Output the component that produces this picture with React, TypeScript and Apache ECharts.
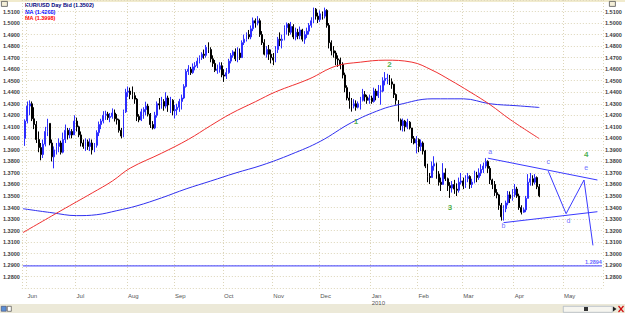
import React, { useEffect, useRef } from "react";
import * as echarts from "echarts";

// EUR/USD daily bid, late May 2009 – mid April 2010.
// Each bar is [close, high, low]; a bar opens at the previous close.
const firstOpen = 1.4;

const may2009 = [null, [1.415, 1.4165, 1.3935]];
const jun2009 = [
  [1.428, 1.432, 1.413], [1.43, 1.433, 1.42], [1.417, 1.432, 1.415], [1.412, 1.427, 1.408], [1.399, 1.415, 1.396],
  [1.392, 1.406, 1.388], [1.386, 1.396, 1.381], [1.395, 1.399, 1.383], [1.406, 1.41, 1.393], [1.413, 1.417, 1.402],
  [1.396, 1.413, 1.394], [1.384, 1.399, 1.38], [1.39, 1.393, 1.374], [1.393, 1.396, 1.386], [1.396, 1.4, 1.388],
  [1.388, 1.398, 1.386], [1.399, 1.405, 1.387], [1.407, 1.412, 1.396], [1.403, 1.409, 1.399], [1.406, 1.409, 1.4],
  [1.403, 1.408, 1.4], [1.415, 1.42, 1.403],
];
const jul2009 = [
  [1.41, 1.418, 1.406], [1.403, 1.411, 1.401], [1.396, 1.406, 1.393], [1.393, 1.399, 1.391], [1.397, 1.4, 1.389],
  [1.393, 1.399, 1.39], [1.396, 1.4, 1.389], [1.39, 1.399, 1.386], [1.394, 1.396, 1.388], [1.405, 1.407, 1.392],
  [1.412, 1.4146, 1.402], [1.415, 1.417, 1.408], [1.42, 1.4236, 1.413], [1.421, 1.424, 1.416], [1.418, 1.423, 1.416],
  [1.419, 1.422, 1.414], [1.422, 1.426, 1.417], [1.417, 1.425, 1.4146], [1.416, 1.421, 1.412], [1.407, 1.417, 1.405],
  [1.402, 1.409, 1.4], [1.423, 1.425, 1.401], [1.44, 1.443, 1.422],
];
const aug2009 = [
  [1.441, 1.445, 1.436], [1.438, 1.444, 1.434], [1.437, 1.445, 1.434], [1.434, 1.44, 1.43], [1.419, 1.435, 1.415],
  [1.416, 1.421, 1.414], [1.423, 1.4257, 1.415], [1.425, 1.427, 1.417], [1.428, 1.4318, 1.42], [1.421, 1.43, 1.419],
  [1.412, 1.422, 1.409], [1.409, 1.415, 1.4077], [1.42, 1.423, 1.408], [1.43, 1.432, 1.418], [1.429, 1.435, 1.425],
  [1.432, 1.436, 1.4257], [1.428, 1.434, 1.424], [1.435, 1.44, 1.426], [1.429, 1.437, 1.423], [1.433, 1.436, 1.422],
  [1.424, 1.434, 1.42],
];
const sep2009 = [
  [1.425, 1.429, 1.4172], [1.427, 1.43, 1.42], [1.432, 1.4343, 1.423], [1.435, 1.438, 1.425], [1.445, 1.447, 1.434],
  [1.458, 1.46, 1.444], [1.46, 1.4635, 1.455], [1.457, 1.462, 1.455], [1.462, 1.465, 1.456], [1.463, 1.4661, 1.459],
  [1.467, 1.47, 1.461], [1.47, 1.472, 1.465], [1.473, 1.4747, 1.468], [1.472, 1.477, 1.469], [1.479, 1.481, 1.47],
  [1.477, 1.4833, 1.474], [1.469, 1.479, 1.466], [1.465, 1.472, 1.462], [1.459, 1.468, 1.4575], [1.46, 1.464, 1.456],
  [1.463, 1.466, 1.457], [1.455, 1.466, 1.453],
];
const oct2009 = [
  [1.454, 1.46, 1.449], [1.457, 1.461, 1.4515], [1.467, 1.469, 1.456], [1.472, 1.474, 1.465], [1.475, 1.4764, 1.47],
  [1.469, 1.478, 1.467], [1.474, 1.479, 1.466], [1.47, 1.478, 1.468], [1.483, 1.485, 1.47], [1.486, 1.49, 1.481],
  [1.49, 1.4919, 1.484], [1.488, 1.494, 1.486], [1.495, 1.4979, 1.486], [1.502, 1.5048, 1.493], [1.5, 1.504, 1.496],
  [1.502, 1.506, 1.498], [1.49, 1.504, 1.488], [1.483, 1.493, 1.481], [1.473, 1.486, 1.472], [1.477, 1.48, 1.47],
  [1.473, 1.481, 1.468], [1.47, 1.477, 1.465],
];
const nov2009 = [
  [1.468, 1.474, 1.4635], [1.477, 1.48, 1.466], [1.486, 1.488, 1.474], [1.485, 1.4919, 1.48], [1.486, 1.49, 1.478],
  [1.496, 1.498, 1.485], [1.499, 1.5005, 1.49], [1.492, 1.5, 1.489], [1.497, 1.501, 1.49], [1.488, 1.499, 1.486],
  [1.492, 1.496, 1.485], [1.489, 1.495, 1.486], [1.494, 1.497, 1.486], [1.486, 1.495, 1.484], [1.49, 1.493, 1.482],
  [1.493, 1.496, 1.487], [1.498, 1.5, 1.49], [1.502, 1.505, 1.496], [1.512, 1.5134, 1.5], [1.506, 1.513, 1.503],
  [1.503, 1.509, 1.5],
];
const dec2009 = [
  [1.508, 1.511, 1.501], [1.506, 1.51, 1.503], [1.511, 1.5134, 1.504], [1.498, 1.512, 1.496], [1.483, 1.5, 1.478],
  [1.476, 1.485, 1.472], [1.474, 1.48, 1.47], [1.469, 1.476, 1.4635], [1.468, 1.472, 1.462], [1.464, 1.47, 1.46],
  [1.455, 1.466, 1.452], [1.444, 1.457, 1.44], [1.435, 1.446, 1.433], [1.433, 1.4403, 1.4257], [1.428, 1.435, 1.4232],
  [1.43, 1.434, 1.426], [1.427, 1.433, 1.424], [1.43, 1.432, 1.426], [1.433, 1.436, 1.425], [1.438, 1.4429, 1.432],
  [1.436, 1.441, 1.432], [1.433, 1.4378, 1.43], [1.435, 1.438, 1.43],
];
const jan2010 = [
  [1.432, 1.437, 1.43], [1.441, 1.444, 1.431], [1.437, 1.443, 1.433], [1.441, 1.4463, 1.435], [1.441, 1.446, 1.4292],
  [1.45, 1.453, 1.44], [1.452, 1.4575, 1.446], [1.452, 1.456, 1.447], [1.449, 1.455, 1.4463], [1.447, 1.452, 1.443],
  [1.438, 1.447, 1.435], [1.433, 1.439, 1.4292], [1.416, 1.4318, 1.4146], [1.411, 1.4172, 1.407], [1.415, 1.4172, 1.406],
  [1.41, 1.416, 1.406], [1.414, 1.417, 1.408], [1.409, 1.415, 1.4077], [1.4, 1.409, 1.396], [1.396, 1.402, 1.3948],
  [1.399, 1.402, 1.387],
];
const feb2010 = [
  [1.393, 1.4, 1.388], [1.396, 1.399, 1.389], [1.389, 1.3974, 1.386], [1.376, 1.39, 1.3742], [1.367, 1.378, 1.362],
  [1.366, 1.37, 1.3604], [1.376, 1.38, 1.366], [1.378, 1.3845, 1.372], [1.369, 1.379, 1.365], [1.362, 1.3716, 1.359],
  [1.36, 1.366, 1.3544], [1.37, 1.3785, 1.36], [1.365, 1.374, 1.363], [1.359, 1.366, 1.3544], [1.357, 1.362, 1.3484],
  [1.36, 1.363, 1.353], [1.356, 1.364, 1.3519], [1.355, 1.361, 1.35], [1.362, 1.366, 1.353], [1.363, 1.37, 1.36],
];
const mar2010 = [
  [1.359, 1.366, 1.356], [1.365, 1.368, 1.357], [1.367, 1.37, 1.362], [1.36, 1.368, 1.3562], [1.362, 1.365, 1.357],
  [1.368, 1.372, 1.361], [1.366, 1.371, 1.362], [1.37, 1.374, 1.364], [1.373, 1.3776, 1.3673], [1.376, 1.379, 1.37],
  [1.38, 1.3828, 1.374], [1.374, 1.381, 1.37], [1.364, 1.376, 1.3604], [1.36, 1.365, 1.356], [1.353, 1.363, 1.3501],
  [1.351, 1.356, 1.348], [1.342, 1.3519, 1.338], [1.332, 1.344, 1.3287], [1.339, 1.342, 1.3287], [1.344, 1.346, 1.336],
  [1.351, 1.3544, 1.342], [1.348, 1.354, 1.344], [1.351, 1.356, 1.346],
];
const apr2010 = [
  [1.356, 1.3604, 1.349], [1.35, 1.358, 1.3484], [1.34, 1.352, 1.338], [1.336, 1.342, 1.334], [1.338, 1.34, 1.3355],
  [1.348, 1.3501, 1.336], [1.362, 1.369, 1.348], [1.365, 1.37, 1.359], [1.362, 1.368, 1.359], [1.366, 1.369, 1.36],
  [1.358, 1.367, 1.356], [1.3502, 1.3604, 1.349],
];

// Moving averages, sampled as [trading-day index, value]
const maSlow = [
  [0, 1.339], [13, 1.3355], [24, 1.333], [33, 1.3338], [42, 1.3373], [51, 1.3415], [62, 1.3484], [73, 1.3562],
  [84, 1.363], [95, 1.3699], [107, 1.3768], [120, 1.3862], [133, 1.3974], [147, 1.4137], [160, 1.4249],
  [168, 1.4292], [183, 1.4343], [197, 1.4343], [209, 1.43], [221, 1.4283], [231, 1.4268],
];
const maFast = [
  [0, 1.3183], [17, 1.3373], [31, 1.3527], [40, 1.363], [48, 1.3742], [62, 1.3871], [74, 1.3991], [84, 1.4111],
  [93, 1.4214], [104, 1.4318], [113, 1.4403], [128, 1.4515], [140, 1.4627], [151, 1.4661], [162, 1.4678],
  [174, 1.4661], [183, 1.4592], [191, 1.4507], [200, 1.4403], [209, 1.4292], [218, 1.4163], [231, 1.3998],
];

// Wave count drawn on the chart: [text, trading-day index, price, kind]
const waveLabels: [string, number, number, "wave" | "sub"][] = [
  ["1", 149, 1.4146, "wave"], ["2", 164, 1.4644, "wave"], ["3", 191, 1.3398, "wave"], ["4", 252, 1.3862, "wave"],
  ["a", 209, 1.3888, "sub"], ["b", 215, 1.3244, "sub"], ["c", 235, 1.3802, "sub"], ["d", 244, 1.3287, "sub"],
  ["e", 252, 1.3751, "sub"],
];
const triangleUpper = [[208, 1.3828], [257, 1.3639]];
const triangleLower = [[215, 1.3269], [257, 1.3364]];
const projectedPath = [[235, 1.3716], [243, 1.3347], [251, 1.3639], [255, 1.3072]];

const supportLevel = 1.2894;
const lastClose = 1.3502;
const maSlowLast = 1.4268;
const maFastLast = 1.3998;

const monthNames = ["Jan", "Feb", "Mar", "Apr", "May", "Jun", "Jul", "Aug", "Sep", "Oct", "Nov", "Dec"];
const firstDay = Date.UTC(2009, 4, 28);
const dayCount = 260;

function tradingDays(): string[] {
  const out: string[] = [];
  for (let t = firstDay; out.length < dayCount; t += 86400000) {
    const d = new Date(t);
    const wd = d.getUTCDay();
    if (wd === 0 || wd === 6) continue;
    out.push(d.toISOString().slice(0, 10));
  }
  return out;
}

export default function App() {
  const ref = useRef<HTMLDivElement>(null);

  useEffect(() => {
    if (!ref.current) return;
    const chart = echarts.init(ref.current, undefined, { renderer: "svg" });
    const dates = tradingDays();

    const bars = [may2009, jun2009, jul2009, aug2009, sep2009, oct2009, nov2009, dec2009, jan2010, feb2010, mar2010, apr2010].flat();
    let prev = firstOpen;
    const candles = bars.map((b: any) => {
      if (!b) return ["-", "-", "-", "-"];
      const [c, h, l] = b;
      const o = prev;
      prev = c;
      return [o, c, Math.min(l, o, c), Math.max(h, o, c)];
    });

    const monthStart = (i: number) => i > 0 && !!dates[i] && dates[i].slice(5, 7) !== dates[i - 1].slice(5, 7);
    const gridTick = (i: number) => i === 0 || !dates[i] || monthStart(i);

    const grid = "#dcd5b8";
    const axisFont = "Liberation Sans";
    const blue = "#3a3aff";
    const priceLabel = (v: number) => (v < 1.275 || v > 1.515 ? "" : v.toFixed(4));

    const yBase = {
      type: "value" as const,
      min: 1.27,
      max: 1.52,
      interval: 0.01,
      axisLine: { show: false },
      axisTick: { show: false },
      axisLabel: { formatter: priceLabel, fontSize: 5.5, fontWeight: "bold" as const, color: "#3a3a3a", fontFamily: axisFont, margin: 2 },
    };

    const lastIndex = dates.length - 1;

    chart.setOption({
      animation: false,
      backgroundColor: "#ffffff",
      grid: { left: 20.3, right: 22, top: -2.72, bottom: 24.72 },
      xAxis: {
        type: "category",
        data: dates,
        boundaryGap: true,
        axisLine: { show: false },
        axisTick: { show: false },
        axisLabel: {
          interval: (i: number) => monthStart(i),
          formatter: (v: string) => {
            const m = +v.slice(5, 7) - 1;
            return m === 0 ? `${monthNames[m]}\n${v.slice(0, 4)}` : monthNames[m];
          },
          align: "left",
          fontSize: 6,
          lineHeight: 7,
          color: "#555",
          fontFamily: axisFont,
          margin: 4,
        },
        splitLine: { show: true, interval: (i: number) => gridTick(i), lineStyle: { color: grid, width: 1, type: [1, 2] } },
      },
      yAxis: [
        { ...yBase, position: "left", splitLine: { show: true, lineStyle: { color: grid, width: 1, type: [1, 2] } } },
        { ...yBase, position: "right", splitLine: { show: false } },
      ],
      series: [
        {
          type: "candlestick",
          data: candles,
          barWidth: 1.4,
          z: 2,
          itemStyle: { color: "#7070ff", color0: "#000000", borderColor: "#2e2eff", borderColor0: "#000000", borderWidth: 1 },
        },
        { type: "line", data: maSlow, smooth: 0.4, symbol: "none", z: 3, color: "#3030f0", lineStyle: { color: "#3030f0", width: 1 } },
        { type: "line", data: maFast, smooth: 0.4, symbol: "none", z: 3, color: "#f03030", lineStyle: { color: "#f03030", width: 1 } },
        // horizontal support level across the whole period
        {
          type: "line",
          symbol: "none",
          z: 4,
          color: blue,
          lineStyle: { color: blue, width: 1 },
          data: [[0, supportLevel], [lastIndex, supportLevel]],
        },
        { type: "line", data: triangleUpper, symbol: "none", z: 4, color: blue, lineStyle: { color: blue, width: 1 } },
        { type: "line", data: triangleLower, symbol: "none", z: 4, color: blue, lineStyle: { color: blue, width: 1 } },
        { type: "line", data: projectedPath, symbol: "none", z: 4, color: blue, lineStyle: { color: blue, width: 1 } },
        {
          type: "scatter",
          symbolSize: 0,
          z: 6,
          data: [
            ...waveLabels.map(([t, x, y, kind]) => ({
              name: t,
              value: [x, y],
              label: kind === "wave"
                ? { color: "#1a9a1a", fontSize: 8, fontWeight: "bold" }
                : { color: "#4a4aff", fontSize: 7, fontWeight: "normal" },
            })),
            {
              name: supportLevel.toFixed(4),
              value: [lastIndex, supportLevel],
              label: { position: "top", align: "right", distance: 1, color: blue, fontSize: 5.5, fontWeight: "bold", fontFamily: axisFont },
            },
          ],
          label: { show: true, position: "inside", formatter: "{b}", fontFamily: "Liberation Sans" },
        },
      ],
      graphic: [
        { type: "rect", left: 0, top: 0, shape: { width: 625, height: 2 }, style: { fill: "#f1ebcd" }, silent: true },
        { type: "text", left: 25, top: 2, style: { text: `EUR/USD Day Bid (${lastClose.toFixed(4)})`, fill: "#00007a", font: "bold 5.5px Liberation Sans" } },
        { type: "text", left: 25, top: 8.5, style: { text: `MA (${maSlowLast.toFixed(4)})`, fill: "#0000ff", font: "bold 5.5px Liberation Sans" } },
        { type: "text", left: 25, top: 14.5, style: { text: `MA (${maFastLast.toFixed(4)})`, fill: "#ff0000", font: "bold 5.5px Liberation Sans" } },
        { type: "rect", left: 1, top: 1, shape: { width: 6, height: 5 }, style: { fill: "#f4efd8", stroke: "#555", lineWidth: 0.8 } },
        { type: "rect", left: 609, top: 1, shape: { width: 6, height: 5 }, style: { fill: "#f4efd8", stroke: "#555", lineWidth: 0.8 } },
        { type: "rect", left: 0, top: 304, shape: { width: 625, height: 9 }, style: { fill: "#ece9d8" }, silent: true },
        { type: "rect", left: 1, top: 306, shape: { width: 5, height: 5 }, style: { fill: "#5b8fd6", stroke: "#335", lineWidth: 0.5 } },
        { type: "rect", left: 7, top: 306, shape: { width: 4, height: 5 }, style: { fill: "#ffffff", stroke: "#333", lineWidth: 0.6 } },
        { type: "rect", left: 563, top: 306, shape: { width: 49, height: 6 }, style: { fill: "#f6f5ef", stroke: "#9aa6b8", lineWidth: 0.6 } },
        { type: "rect", left: 584, top: 307, shape: { width: 4, height: 4 }, style: { fill: "#333" } },
        { type: "polygon", shape: { points: [[613, 306.5], [616.5, 309], [613, 311.5]] }, style: { fill: "#222" } },
        { type: "line", shape: { x1: 618.5, y1: 306, x2: 623.5, y2: 312 }, style: { stroke: "#d01010", lineWidth: 1.2 } },
        { type: "line", shape: { x1: 623.5, y1: 306, x2: 618.5, y2: 312 }, style: { stroke: "#d01010", lineWidth: 1.2 } },
      ],
    });

    return () => chart.dispose();
  }, []);

  return <div ref={ref} style={{ position: "absolute", left: 0, top: 0, width: 625, height: 313 }} />;
}
